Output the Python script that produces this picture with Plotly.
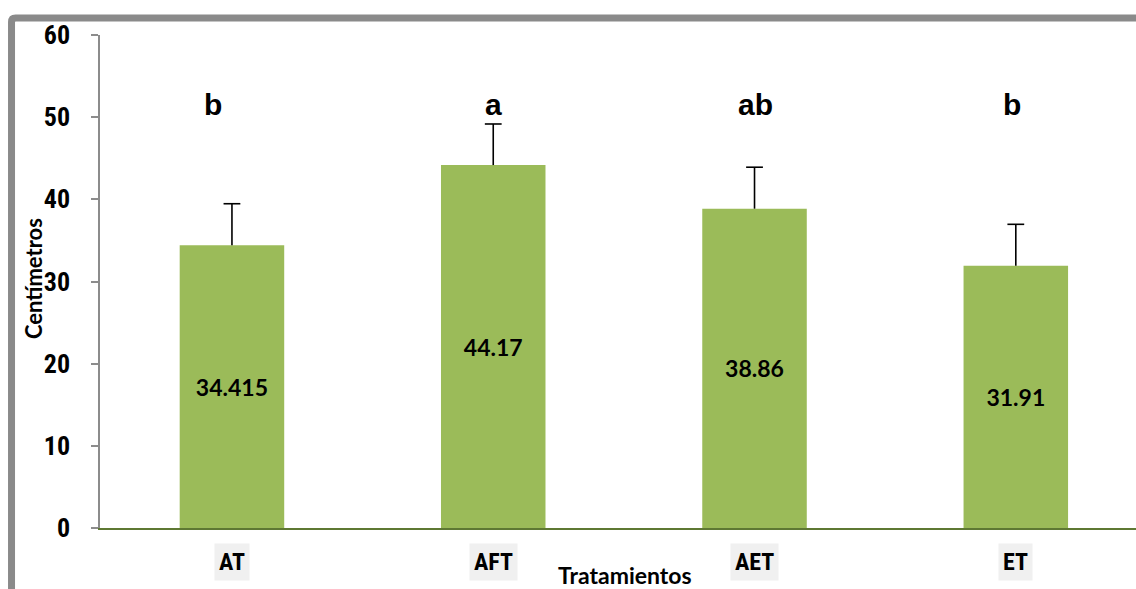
import plotly.graph_objects as go

# Plant height per treatment (cm), standard error and significance letters
tratamientos = ["AT", "AFT", "AET", "ET"]
altura_cm = [34.415, 44.17, 38.86, 31.91]
error_std = [5.05, 5.0, 5.05, 5.05]
letras = ["b", "a", "ab", "b"]
y_ticks = [0, 10, 20, 30, 40, 50, 60]

# horizontal nudge of each significance letter (px)
letra_shift = [-19, 0, 1, -4]

BAR_GREEN = "#9BBB59"
AXIS_GREEN = "#5E7833"
FRAME_GRAY = "#8A8A8A"
NARROW = "Liberation Sans Narrow, Roboto Condensed, DejaVu Sans Condensed, Arial Narrow, sans-serif"
HUMANIST = "Lato, Carlito, Calibri, Open Sans, sans-serif"

fig = go.Figure()
fig.add_trace(go.Bar(
    x=tratamientos,
    y=altura_cm,
    width=0.4,
    marker=dict(color=BAR_GREEN, line=dict(width=0)),
    text=[str(v) for v in altura_cm],
    texttemplate="%{text}",
    textposition="inside",
    insidetextanchor="middle",
    textangle=0,
    constraintext="none",
    textfont=dict(family=HUMANIST, size=23, color="black", weight="bold"),
    showlegend=False,
))

# upper-only error whiskers: stem from bar top plus a cap
stem_x, stem_y = [], []
for cat, v, e in zip(tratamientos, altura_cm, error_std):
    stem_x += [cat, cat, None]
    stem_y += [v, v + e, None]
fig.add_trace(go.Scatter(
    x=stem_x, y=stem_y, mode="lines",
    line=dict(color="black", width=1.6),
    hoverinfo="skip", showlegend=False,
))
fig.add_trace(go.Scatter(
    x=tratamientos, y=[v + e for v, e in zip(altura_cm, error_std)],
    mode="markers",
    marker=dict(symbol="line-ew-open", size=12, color="black",
                line=dict(color="black", width=1.6)),
    hoverinfo="skip", showlegend=False,
))

annotations = []
# significance letters above each bar
for cat, let, dx in zip(tratamientos, letras, letra_shift):
    annotations.append(dict(
        x=cat, y=51.5, xref="x", yref="y", text=let, showarrow=False, xshift=dx,
        font=dict(family="Liberation Sans, Arial, sans-serif", size=30, color="black", weight="bold"),
        yanchor="middle",
    ))
# category labels on light boxes
for cat in tratamientos:
    annotations.append(dict(
        x=cat, y=-0.069, xref="x", yref="paper", text=cat, showarrow=False,
        font=dict(family=NARROW, size=24, color="black", weight="bold"),
        bgcolor="#F0F0F0", borderpad=4, yanchor="middle",
    ))
# axis titles
annotations.append(dict(
    x=0.507, y=-0.096, xref="paper", yref="paper", text="Tratamientos", showarrow=False,
    font=dict(family=HUMANIST, size=23, color="black", weight="bold"), yanchor="middle",
))
annotations.append(dict(
    x=-0.0647, y=0.507, xref="paper", yref="paper", text="Centímetros", showarrow=False,
    textangle=-90,
    font=dict(family=HUMANIST, size=22, color="black", weight="bold"), xanchor="center",
))

fig.update_layout(
    width=1136, height=589,
    margin=dict(l=100, r=0, t=35, b=61),
    paper_bgcolor="white", plot_bgcolor="white",
    bargap=0.6,
    annotations=annotations,
    shapes=[dict(
        type="path", xref="paper", yref="paper",
        path="M -0.0854,-0.3 L -0.0854,1.0264 Q -0.0854,1.0345 -0.0815,1.0345 L 1.05,1.0345",
        line=dict(color=FRAME_GRAY, width=7), layer="above",
    )],
    xaxis=dict(
        range=[-0.505, 3.46], showticklabels=False, ticks="",
        showline=True, linecolor=AXIS_GREEN, linewidth=2,
        showgrid=False, zeroline=False, fixedrange=True,
    ),
    yaxis=dict(
        range=[0, 60], tickvals=y_ticks, ticks="outside", ticklen=7,
        tickcolor="#8C8C8C", tickwidth=1.5,
        showline=True, linecolor="#8C8C8C", linewidth=1.5,
        showgrid=False, zeroline=False,
        tickfont=dict(family=NARROW, size=26, color="black", weight="bold"),
        ticklabelstandoff=16,
    ),
)

fig.write_html("out.html")
